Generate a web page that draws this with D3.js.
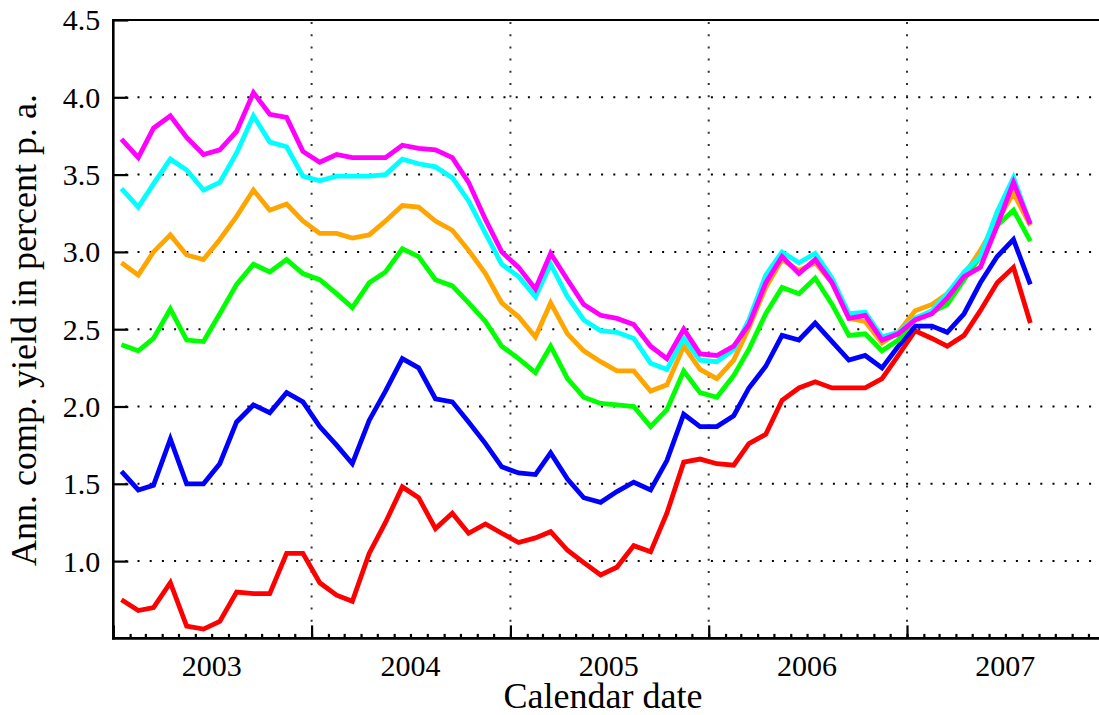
<!DOCTYPE html>
<html>
<head>
<meta charset="utf-8">
<script src="https://cdn.jsdelivr.net/npm/d3@7"></script>
<style>
  html, body { margin: 0; padding: 0; background: #fff; }
  svg { display: block; }
  svg text { font-family: "Liberation Serif", "DejaVu Serif", serif !important; fill: #000; }
</style>
</head>
<body>
<svg id="chart" width="1099" height="715"></svg>
<script>
// Monthly observations, January 2003 through August 2007
const firstMonth = new Date(2003, 0, 1);
const lastMonth = new Date(2007, 8, 1);

const yearLabels = ["2003", "2004", "2005", "2006", "2007"];
const yTicks = [1.0, 1.5, 2.0, 2.5, 3.0, 3.5, 4.0, 4.5];

// Annually compounded yields (% p.a.) by maturity
const red = [0.75,0.68,0.70,0.86,0.58,0.56,0.61,0.80,0.79,0.79,1.05,1.05,0.86,0.78,0.74,1.05,1.25,1.48,1.41,1.21,1.31,1.18,1.24,1.18,1.12,1.15,1.19,1.07,0.99,0.91,0.96,1.10,1.06,1.31,1.64,1.66,1.63,1.62,1.76,1.82,2.04,2.12,2.16,2.12,2.12,2.12,2.18,2.33,2.49,2.44,2.39,2.46,2.62,2.80,2.90,2.54];
const blue = [1.58,1.46,1.49,1.79,1.50,1.50,1.63,1.90,2.01,1.96,2.09,2.03,1.87,1.75,1.63,1.91,2.10,2.31,2.25,2.05,2.03,1.90,1.76,1.61,1.57,1.56,1.70,1.53,1.41,1.38,1.45,1.51,1.46,1.65,1.95,1.87,1.87,1.94,2.12,2.26,2.46,2.43,2.54,2.42,2.30,2.33,2.25,2.39,2.52,2.52,2.48,2.60,2.80,2.97,3.08,2.79];
const green = [2.40,2.36,2.44,2.63,2.43,2.42,2.60,2.79,2.92,2.87,2.95,2.86,2.82,2.73,2.64,2.80,2.87,3.02,2.97,2.82,2.78,2.67,2.55,2.39,2.31,2.22,2.39,2.18,2.06,2.02,2.01,2.00,1.87,1.98,2.23,2.09,2.06,2.20,2.37,2.60,2.77,2.73,2.83,2.66,2.46,2.47,2.36,2.43,2.57,2.61,2.66,2.82,2.97,3.17,3.27,3.07];
const orange = [2.93,2.85,3.00,3.11,2.98,2.95,3.08,3.23,3.40,3.27,3.31,3.20,3.12,3.12,3.09,3.11,3.20,3.30,3.29,3.20,3.14,3.01,2.86,2.67,2.58,2.45,2.67,2.47,2.36,2.29,2.23,2.23,2.10,2.14,2.39,2.24,2.18,2.30,2.51,2.77,2.95,2.88,2.93,2.80,2.57,2.55,2.41,2.48,2.62,2.66,2.73,2.85,3.01,3.20,3.38,3.17];
const cyan = [3.41,3.29,3.44,3.60,3.53,3.40,3.45,3.64,3.88,3.71,3.68,3.49,3.46,3.49,3.49,3.49,3.50,3.60,3.57,3.55,3.48,3.33,3.12,2.92,2.84,2.71,2.92,2.71,2.56,2.49,2.48,2.44,2.28,2.24,2.44,2.30,2.29,2.37,2.56,2.85,3.00,2.93,2.99,2.83,2.60,2.61,2.45,2.48,2.57,2.62,2.73,2.87,2.97,3.26,3.48,3.18];
const magenta = [3.73,3.61,3.80,3.88,3.74,3.63,3.66,3.78,4.03,3.89,3.87,3.65,3.58,3.63,3.61,3.61,3.61,3.69,3.67,3.66,3.61,3.45,3.21,3.00,2.90,2.76,2.99,2.82,2.66,2.59,2.57,2.53,2.39,2.31,2.50,2.34,2.33,2.39,2.53,2.80,2.97,2.86,2.95,2.80,2.57,2.59,2.43,2.47,2.56,2.60,2.70,2.84,2.90,3.17,3.45,3.18];

const series = [
  { values: red, color: "#ff0000" },
  { values: blue, color: "#0000ff" },
  { values: green, color: "#00ff00" },
  { values: orange, color: "#ffa500" },
  { values: cyan, color: "#00ffff" },
  { values: magenta, color: "#ff00ff" }
];

const months = d3.timeMonth.range(firstMonth, lastMonth)
  .map(d => new Date(d.getFullYear(), d.getMonth(), 16));

const serif = '"Liberation Serif", "DejaVu Serif", serif';
const svg = d3.select("#chart");
const plotLeft = 113.3, plotTop = 20, plotBottom = 638.4, plotRight = 1105.3;

const x = d3.scaleTime()
  .domain([new Date(2003, 0, 1), new Date(2008, 0, 1)])
  .range([plotLeft, plotRight]);
const y = d3.scaleLinear().domain([0.5, 4.5]).range([plotBottom, plotTop]);

// Dotted grid
const grid = svg.append("g");
grid.selectAll("line.h")
  .data(yTicks.filter(v => v < 4.5))
  .join("line")
  .attr("class", "h")
  .attr("x1", plotLeft + 12).attr("x2", 1099)
  .attr("y1", d => y(d)).attr("y2", d => y(d))
  .attr("stroke", "#000").attr("stroke-width", 2)
  .attr("stroke-dasharray", "2,10.2");
grid.selectAll("line.v")
  .data(d3.timeYear.range(new Date(2004, 0, 1), new Date(2008, 0, 1)))
  .join("line")
  .attr("class", "v")
  .attr("x1", d => x(d)).attr("x2", d => x(d))
  .attr("y1", plotTop + 2).attr("y2", plotBottom - 14)
  .attr("stroke", "#333").attr("stroke-width", 2)
  .attr("stroke-dasharray", "2,10.2");

// Series lines
const line = d3.line()
  .x((d, i) => x(months[i]))
  .y(d => y(d));
svg.append("g").selectAll("path")
  .data(series)
  .join("path")
  .attr("d", s => line(s.values))
  .attr("fill", "none")
  .attr("stroke", s => s.color)
  .attr("stroke-width", 4.8)
  .attr("stroke-linejoin", "miter");

// Top frame line
svg.append("line").attr("x1", plotLeft).attr("x2", 1099).attr("y1", plotTop).attr("y2", plotTop)
  .attr("stroke", "#000").attr("stroke-width", 2.2);

// Bottom axis: monthly minor ticks, yearly major ticks
const xMinor = d3.axisBottom(x)
  .ticks(d3.timeMonth.every(1))
  .tickSize(-4.5).tickFormat("");
const gxMinor = svg.append("g").attr("transform", `translate(0,${plotBottom})`).call(xMinor);
const xMajor = d3.axisBottom(x)
  .ticks(d3.timeYear.every(1))
  .tickSize(-13).tickFormat("");
const gxMajor = svg.append("g").attr("transform", `translate(0,${plotBottom})`).call(xMajor);
[gxMinor, gxMajor].forEach(g => {
  g.select(".domain").remove();
  g.selectAll(".tick line").attr("stroke", "#000").attr("stroke-width", 2.2);
});
svg.append("line").attr("x1", plotLeft - 1.2).attr("x2", 1099).attr("y1", plotBottom).attr("y2", plotBottom)
  .attr("stroke", "#000").attr("stroke-width", 2.6);

// Year labels at mid-year
svg.append("g").selectAll("text")
  .data(yearLabels)
  .join("text")
  .attr("x", d => x(new Date(+d, 6, 1)))
  .attr("y", 676)
  .attr("text-anchor", "middle")
  .style("font-family", serif)
  .style("font-size", "30px")
  .text(d => d);

// Left axis
const yAxis = d3.axisLeft(y)
  .tickValues(yTicks)
  .tickSize(-15)
  .tickPadding(13)
  .tickFormat(d3.format(".1f"));
const gy = svg.append("g").attr("transform", `translate(${plotLeft},0)`).call(yAxis);
gy.attr("font-family", null).attr("font-size", null);
gy.select(".domain").remove();
gy.selectAll(".tick line").attr("stroke", "#000").attr("stroke-width", 2.2);
gy.selectAll(".tick text")
  .style("font-family", serif)
  .style("font-size", "30px")
  .attr("fill", "#000")
  .attr("dy", "0.33em");
svg.append("line").attr("x1", plotLeft).attr("x2", plotLeft).attr("y1", plotTop - 1).attr("y2", plotBottom + 1.2)
  .attr("stroke", "#000").attr("stroke-width", 2.6);

// Axis titles
svg.append("text")
  .attr("x", 603).attr("y", 708)
  .attr("text-anchor", "middle")
  .style("font-family", serif)
  .style("font-size", "36px")
  .text("Calendar date");
svg.append("text")
  .attr("transform", "translate(36,330) rotate(-90)")
  .attr("text-anchor", "middle")
  .style("font-family", serif)
  .style("font-size", "36px")
  .text("Ann. comp. yield in percent p. a.");
</script>
</body>
</html>
